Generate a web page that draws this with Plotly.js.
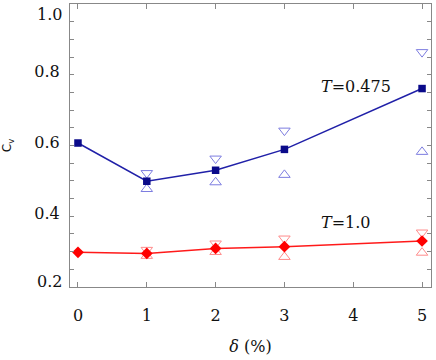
<!DOCTYPE html>
<html><head><meta charset="utf-8">
<script src="https://cdn.plot.ly/plotly-3.0.1.min.js"></script>
<style>html,body{margin:0;padding:0;background:#fff}</style>
</head><body><div id="chart" style="width:436px;height:360px"></div>
<script>
// data
const delta = [0, 1, 2, 3, 5];
const cvT0475 = [0.607, 0.499, 0.530, 0.589, 0.761];
const cvT0475Up = [null, 0.522, 0.563, 0.642, 0.864];   // down-triangles
const cvT0475Low = [null, 0.477, 0.496, 0.517, 0.582];  // up-triangles
const cvT10 = [0.298, 0.295, 0.309, 0.314, 0.330];
const cvT10Up = [null, 0.305, 0.323, 0.337, 0.354];
const cvT10Low = [null, 0.288, 0.299, 0.285, 0.297];
const xTicks = [0, 1, 2, 3, 4, 5];
const yTicks = [0.4, 0.6, 0.8];
const yEdgeTicks = [1.0, 0.2];
const labelT0475 = '<i>T</i>=0.475';
const labelT10 = '<i>T</i>=1.0';

const serif = 'DejaVu Serif';
const traces = [
  {x: delta, y: cvT0475Up, mode: 'markers', type: 'scatter',
   marker: {symbol: 'triangle-down-open', size: 10, color: '#7d7de0', line: {width: 1}}},
  {x: delta, y: cvT0475Low, mode: 'markers', type: 'scatter',
   marker: {symbol: 'triangle-up-open', size: 10, color: '#7d7de0', line: {width: 1}}},
  {x: delta, y: cvT0475, mode: 'lines+markers', type: 'scatter',
   line: {color: '#2020a8', width: 1.5},
   marker: {symbol: 'square', size: 7.5, color: '#0a0a8a'}},
  {x: delta, y: cvT10Up, mode: 'markers', type: 'scatter',
   marker: {symbol: 'triangle-down-open', size: 10, color: '#ff8c8c', line: {width: 1}}},
  {x: delta, y: cvT10Low, mode: 'markers', type: 'scatter',
   marker: {symbol: 'triangle-up-open', size: 10, color: '#ff8c8c', line: {width: 1}}},
  {x: delta, y: cvT10, mode: 'lines+markers', type: 'scatter',
   line: {color: '#ff1a1a', width: 1.5},
   marker: {symbol: 'diamond', size: 9, color: '#ff0000'}}
];

const layout = {
  width: 436, height: 360,
  margin: {l: 70, r: 5, t: 4, b: 73},
  showlegend: false,
  paper_bgcolor: '#fff', plot_bgcolor: '#fff',
  font: {family: serif, size: 16, color: '#111'},
  xaxis: {
    range: [-0.116, 5.13], tickvals: xTicks, ticktext: xTicks.map(String),
    ticks: 'inside', ticklen: 5, tickcolor: '#888', mirror: 'ticks',
    showline: true, linecolor: '#888', linewidth: 1, showgrid: false, zeroline: false,
    ticklabelstandoff: 14,
    title: {text: '<i>δ</i> (%)', font: {family: serif, size: 16}, standoff: 16}
  },
  yaxis: {
    range: [0.2, 1.0], tickvals: yTicks, ticktext: yTicks.map(v => v.toFixed(1)),
    ticks: 'inside', ticklen: 4, tickcolor: '#888', mirror: 'ticks',
    minor: {dtick: 0.05, ticks: 'inside', ticklen: 4, tickcolor: '#888'},
    showline: true, linecolor: '#888', linewidth: 1, showgrid: false, zeroline: false,
    ticklabelstandoff: 6, ticklabelshift: -3,
    title: {text: 'C<sub>v</sub>', font: {family: 'DejaVu Sans', size: 12}, standoff: 20}
  },
  annotations: [
    {x: 0, xref: 'paper', xanchor: 'right', xshift: -6, y: yEdgeTicks[0], yref: 'y', yshift: -10,
     text: yEdgeTicks[0].toFixed(1), showarrow: false, font: {family: serif, size: 16}},
    {x: 0, xref: 'paper', xanchor: 'right', xshift: -6, y: yEdgeTicks[1], yref: 'y', yshift: 6,
     text: yEdgeTicks[1].toFixed(1), showarrow: false, font: {family: serif, size: 16}},
    {x: 4.04, y: 0.767, xref: 'x', yref: 'y', text: labelT0475, showarrow: false,
     font: {family: serif, size: 16}},
    {x: 3.89, y: 0.383, xref: 'x', yref: 'y', text: labelT10, showarrow: false,
     font: {family: serif, size: 16}}
  ]
};
Plotly.newPlot('chart', traces, layout, {displayModeBar: false, staticPlot: true});
</script></body></html>
